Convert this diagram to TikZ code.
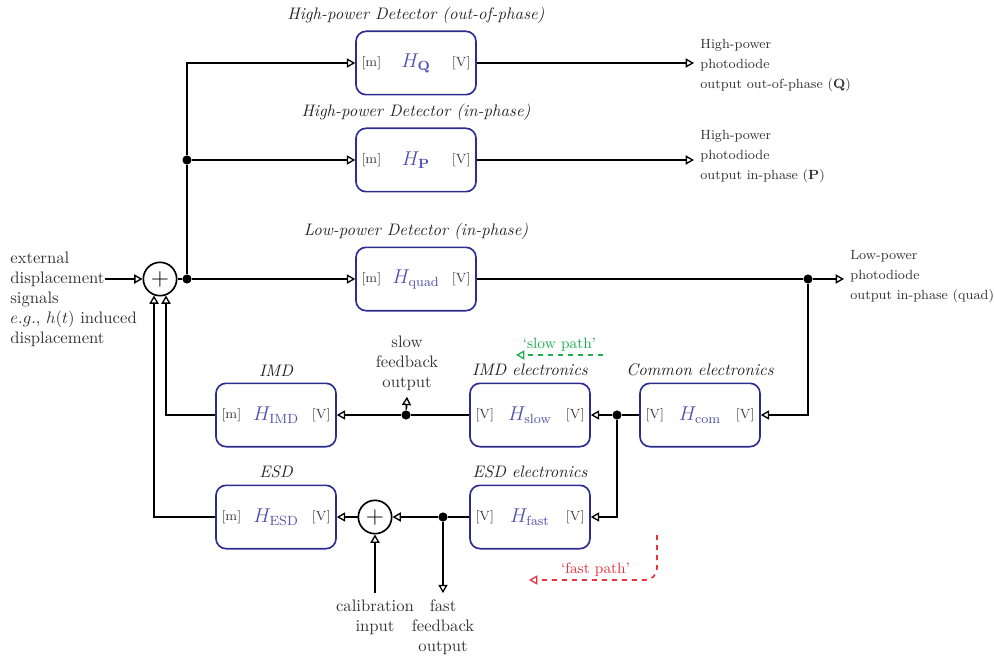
\documentclass[tikz,border=0pt]{standalone}
\usepackage{tikz}
\usetikzlibrary{positioning,arrows.meta,calc}
\usepackage{amsmath,amssymb}

\definecolor{blkblue}{RGB}{45,45,145}
\definecolor{hblue}{RGB}{80,80,175}
\definecolor{slowgreen}{RGB}{30,175,80}
\definecolor{fastred}{RGB}{235,50,60}

\tikzset{
  unitlbl/.style={font=\footnotesize, text=black!75, draw=none, minimum width=0pt, minimum height=0pt},
  ttl/.style={font=\itshape, text=black!85, draw=none, minimum width=0pt, minimum height=0pt},
  blk/.style 2 args={draw=blkblue, line width=1pt, rounded corners=6pt, minimum width=72pt, minimum height=38pt,
    text=hblue, font=\large,
    label={[unitlbl,anchor=west]west:{#1}}, label={[unitlbl,anchor=east]east:{#2}}},
  sumj/.style={draw, circle, line width=1pt, minimum size=20pt, inner sep=0pt, font=\Large},
  dot/.style={circle, fill, inner sep=0pt, minimum size=5.5pt},
  arr/.style={-{Triangle[open,length=5pt,width=5.5pt,line width=0.8pt]}},
  outtxt/.style={anchor=west, align=left, font=\fontsize{8}{12}\selectfont, text=black!80},
  sigtxt/.style={align=center, text=black!80},
  pathlbl/.style={font=\small, above, inner sep=1.5pt}
}

\begin{document}
\begin{tikzpicture}[x=0.6pt, y=-0.6pt, line width=1pt]
    \useasboundingbox (0,0) rectangle (994,657);

    % Entrada e somador
    \node[anchor=west, align=left, text=black!80] (ext) at (4,299)
        {external\\displacement\\signals\\$e.g.$, $h(t)$ induced\\displacement};
    \coordinate (extin) at (105,279);
    \node[sumj] (s1) at (160,279) {$+$};
    \draw[arr] (extin) -- (s1.west);

    % Detectores
    \node[blk={[m]}{[V]}, label={[ttl]above:{High-power Detector (out-of-phase)}}] (q) at (416,63) {$H_{\mathbf{Q}}$};
    \node[blk={[m]}{[V]}, label={[ttl]above:{High-power Detector (in-phase)}}] (p) at (416,160) {$H_{\mathbf{P}}$};
    \node[blk={[m]}{[V]}, label={[ttl]above:{Low-power Detector (in-phase)}}] (quad) at (416,279) {$H_{\mathrm{quad}}$};

    \node[dot] (d1) at (187,279) {};
    \node[dot] (d2) at (187,160) {};
    \draw (s1.east) -- (d1);
    \draw (d1) -- (d2);
    \draw[arr] (d2) |- (q.west);
    \draw[arr] (d2) -- (p.west);
    \draw[arr] (d1) -- (quad.west);

    % Saidas dos fotodiodos
    \node[outtxt] (qtxt) at (694,66) {High-power\\photodiode\\output out-of-phase ($\mathbf{Q}$)};
    \node[outtxt] (ptxt) at (694,157) {High-power\\photodiode\\output in-phase ($\mathbf{P}$)};
    \node[outtxt] (quadtxt) at (844,277) {Low-power\\photodiode\\output in-phase (quad)};
    \node[dot] (d3) at (808,279) {};
    \draw[arr] (q.east) -- (q.east -| qtxt.west);
    \draw[arr] (p.east) -- (p.east -| ptxt.west);
    \draw (quad.east) -- (d3);
    \draw[arr] (d3) -- (d3 -| quadtxt.west);

    % Eletronica
    \node[blk={[V]}{[V]}, label={[ttl]above:{Common electronics}}] (com) at (700,415) {$H_{\mathrm{com}}$};
    \node[blk={[V]}{[V]}, label={[ttl]above:{IMD electronics}}] (slow) at (530,415) {$H_{\mathrm{slow}}$};
    \node[blk={[V]}{[V]}, label={[ttl]above:{ESD electronics}}] (fast) at (530,517) {$H_{\mathrm{fast}}$};
    \node[blk={[m]}{[V]}, label={[ttl]above:{IMD}}] (imd) at (276,415) {$H_{\mathrm{IMD}}$};
    \node[blk={[m]}{[V]}, label={[ttl]above:{ESD}}] (esd) at (276,517) {$H_{\mathrm{ESD}}$};
    \node[sumj] (s2) at (375,517) {$+$};

    \node[dot] (d4) at (617,415) {};
    \node[dot] (d5) at (406,415) {};
    \node[dot] (d6) at (443,517) {};

    \draw[arr] (d3) |- (com.east);
    \draw (com.west) -- (d4);
    \draw[arr] (d4) -- (slow.east);
    \draw[arr] (d4) |- (fast.east);
    \draw (slow.west) -- (d5);
    \draw[arr] (d5) -- (imd.east);
    \draw (fast.west) -- (d6);
    \draw[arr] (d6) -- (s2.east);
    \draw[arr] (s2.west) -- (esd.east);

    % Realimentacao
    \draw[arr] (imd.west) -| (s1.-70);
    \draw[arr] (esd.west) -| (s1.-110);

    % Sinais auxiliares
    \node[sigtxt] (slowtxt) at (407,363) {slow\\feedback\\output};
    \node[sigtxt] (fasttxt) at (443,627) {fast\\feedback\\output};
    \node[sigtxt] (caltxt) at (375,617) {calibration\\input};
    \draw[arr] (d5) -- (slowtxt.south);
    \draw[arr] (d6) -- (fasttxt.north);
    \draw[arr] (caltxt.north) -- (s2.south);

    % Caminhos
    \coordinate (sp1) at (603,355);
    \coordinate (sp2) at (516,355);
    \draw[arr, slowgreen, dashed] (sp1) -- (sp2) node[pathlbl, midway] {`slow path'};
    \coordinate (fp1) at (657,535);
    \coordinate (fp2) at (529,580);
    \draw[arr, fastred, dashed, rounded corners=7pt] (fp1) |- (fp2) node[pathlbl, pos=0.74] {`fast path'};
\end{tikzpicture}
\end{document}
